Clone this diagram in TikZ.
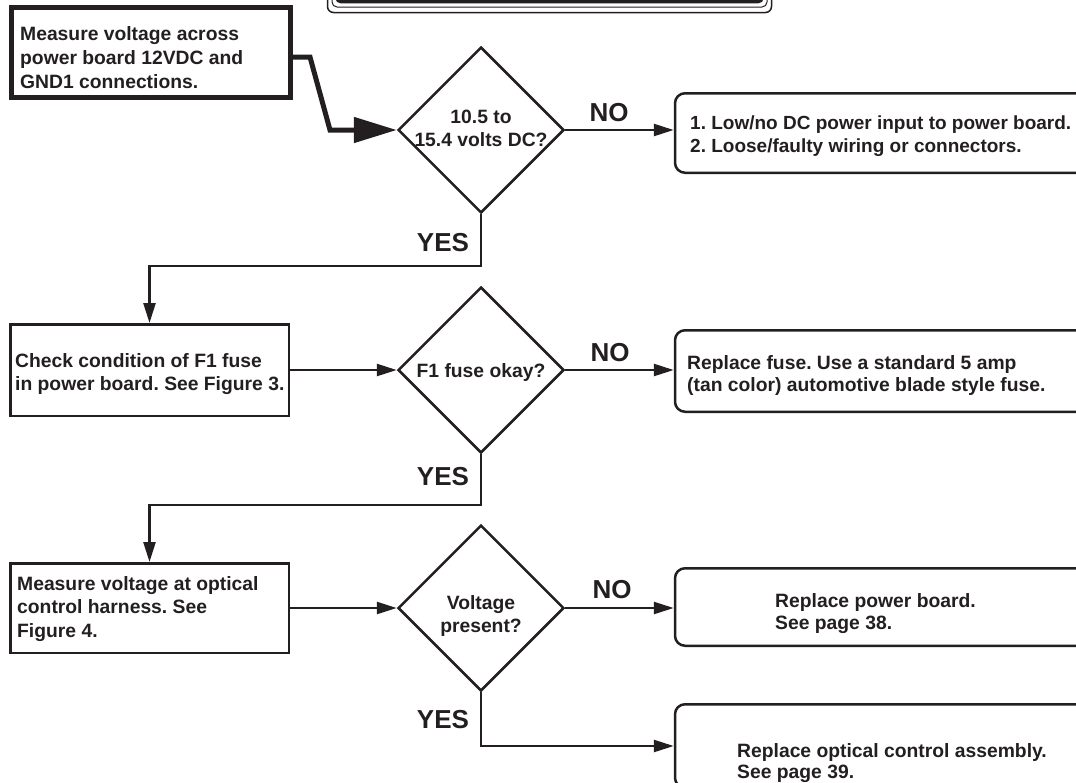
\documentclass[tikz,border=0pt]{standalone}
\usepackage{fontspec}
\setmainfont{Liberation Sans}
\usetikzlibrary{arrows.meta,shapes.geometric,calc}
\definecolor{ink}{HTML}{231F20}
\frenchspacing
\begin{document}
\begin{tikzpicture}[x=1pt,y=-1pt,
  txt/.style={font=\bfseries\fontsize{19.3}{23}\selectfont, text=ink, inner sep=0pt, align=left},
  ctxt/.style={txt, align=center},
  lbl/.style={font=\bfseries\fontsize{26}{30}\selectfont, text=ink, inner sep=0pt},
  sbox/.style={draw=ink, line width=2.5pt, rectangle, inner sep=0pt},
  rbox/.style={sbox, rounded corners=10pt},
  dec/.style={draw=ink, line width=2.5pt, diamond, inner sep=0pt, minimum width=166pt, minimum height=166pt},
  arr/.style={draw=ink, line width=2.5pt, -{Triangle[length=20pt,width=12pt]}},
  thickarr/.style={draw=ink, line width=5pt, -{Triangle[length=43pt,width=25pt]}},
]
\useasboundingbox (0,0) rectangle (1076,782);
\clip (0,0) rectangle (1076,782);

% title bar (cut off at top)
\draw[ink, line width=1.5pt, rounded corners=6pt] (327.5,-40) rectangle (771.5,12.5);
\draw[ink, line width=1pt, rounded corners=5pt] (332,-40) rectangle (767,7);
\draw[ink, line width=3.4pt, rounded corners=4pt] (337,-40) rectangle (762,1.7);

% left column boxes
\node[sbox, line width=5pt, minimum width=279pt, minimum height=90pt] (b1) at (151,52.5) {};
\node[txt, anchor=north west, font=\bfseries\fontsize{19.3}{24}\selectfont] (t1) at (20,26)
  {Measure voltage across\\power board 12VDC and\\GND1 connections.};

\node[sbox, minimum width=278.5pt, minimum height=91.5pt] (b2) at (149.5,370) {};
\node[txt, anchor=north west] (t2) at (15,353)
  {Check condition of F1 fuse\\in power board. See Figure 3.};

\node[sbox, minimum width=278.5pt, minimum height=89.5pt] (b3) at (149.5,608) {};
\node[txt, anchor=north west, font=\bfseries\fontsize{19.3}{23.5}\selectfont] (t3) at (17,576)
  {Measure voltage at optical\\control harness. See\\Figure 4.};

% diamonds
\node[dec] (d1) at (481,130) {};
\node[ctxt, anchor=north] (td1) at (481,110) {10.5 to\\15.4 volts DC?};
\node[dec] (d2) at (481,370) {};
\node[ctxt, anchor=north] (td2) at (481,363) {F1 fuse okay?};
\node[dec] (d3) at (481,608) {};
\node[ctxt, anchor=north] (td3) at (481,595) {Voltage\\present?};

% right boxes
\node[rbox, minimum width=425pt, minimum height=79.5pt] (r1) at (887.5,133) {};
\node[txt, anchor=north west, font=\bfseries\fontsize{19}{23}\selectfont] (tr1) at (690,116)
  {1. Low/no DC power input to power board.\\2. Loose/faulty wiring or connectors.};
\node[rbox, minimum width=425pt, minimum height=81.5pt] (r2) at (887.5,371) {};
\node[txt, anchor=north west, font=\bfseries\fontsize{19.3}{22}\selectfont] (tr2) at (687,355)
  {Replace fuse. Use a standard 5 amp\\(tan color) automotive blade style fuse.};
\node[rbox, minimum width=425pt, minimum height=77.5pt] (r3) at (887.5,607) {};
\node[txt, anchor=north west, font=\bfseries\fontsize{19.3}{22}\selectfont] (tr3) at (775,593)
  {Replace power board.\\See page 38.};
\node[rbox, minimum width=425pt, minimum height=83.5pt] (r4) at (887.5,746) {};
\node[txt, anchor=north west, font=\bfseries\fontsize{19.3}{21}\selectfont] (tr4) at (737,743)
  {Replace optical control assembly.\\See page 39.};

% connectors
\coordinate (k1) at (310,57);
\coordinate (k2) at (330,130);
\draw[thickarr] ($(b1.east)+(-1,4.5)$) -- (k1) -- (k2) -- (d1.west);

\draw[arr] (d1.east) -- (r1.west |- d1.east);
\node[lbl] (no1) at (609,113) {NO};
\coordinate (j1) at (0,266);
\draw[arr] (d1.south) -- (d1.south |- j1) -| (b2.north);
\node[lbl] (yes1) at (443,243) {YES};

\draw[arr] (b2.east) -- (d2.west);
\draw[arr] (d2.east) -- (r2.west |- d2.east);
\node[lbl] (no2) at (610,353) {NO};
\coordinate (j2) at (0,505);
\draw[arr] (d2.south) -- (d2.south |- j2) -| (b3.north);
\node[lbl] (yes2) at (443,477) {YES};

\draw[arr] (b3.east) -- (d3.west);
\draw[arr] (d3.east) -- (r3.west |- d3.east);
\node[lbl] (no3) at (612,590) {NO};
\draw[arr] (d3.south) |- (r4.west);
\node[lbl] (yes3) at (443,720) {YES};
\end{tikzpicture}
\end{document}
